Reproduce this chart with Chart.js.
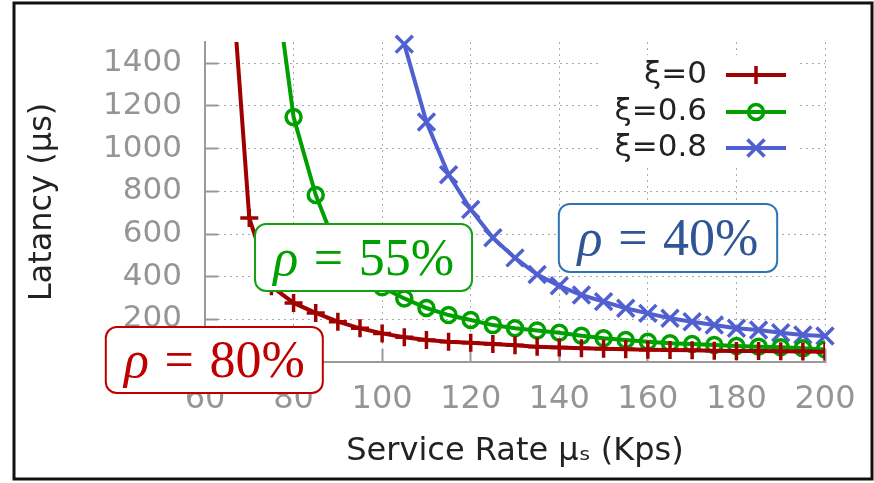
<!DOCTYPE html>
<html>
<head>
<meta charset="utf-8">
<script src="https://cdn.jsdelivr.net/npm/chart.js@4.4.1/dist/chart.umd.min.js"></script>
<style>
html,body{margin:0;padding:0;background:#fff;}
canvas{display:block;}
</style>
</head>
<body>
<canvas id="c" width="874" height="483"></canvas>
<script>
// ---------------- data ----------------
const serviceRate = [65,70,75,80,85,90,95,100,105,110,115,120,125,130,135,140,145,150,155,160,165,170,175,180,185,190,195,200];
const latencyXi0  = [2100,675,355,277,230,189,158,134,116,103,95,90,84,78,72,68,65,62,60,58,56,55,53,52,51,50,49,48];
const latencyXi06 = [null,null,1930,1148,783,520,420,350,298,253,220,197,173,158,148,137,123,111,103,95,88,84,80,75,72,69,64,59];
const latencyXi08 = [null,null,null,null,null,null,null,null,1490,1125,878,715,582,488,410,357,314,283,252,228,205,189,173,158,150,137,127,122];
const seriesNames = ['ξ=0','ξ=0.6','ξ=0.8'];
const xTickValues = [60,80,100,120,140,160,180,200];
const yTickValues = [0,200,400,600,800,1000,1200,1400];
const xAxisTitle = 'Service Rate μₛ (Kps)';
const yAxisTitle = 'Latancy (μs)';
const rhoSymbol = 'ρ';
const rhoValues = ['80%','55%','40%'];

// ---------------- styles / layout ----------------
const seriesColors = ['#A00000','#00A000','#5060D0'];
const seriesMarkers = ['cross','circle','crossRot'];
const markerRadius = [9,7.5,12];
const noteColors = [
  {border:'#C00000', text:'#C00000'},
  {border:'#13A013', text:'#00A000'},
  {border:'#2E75B6', text:'#2F5597'}
];
// box corners in data units (x0,x1 service rate; y0,y1 latency)
const noteBoxes = [
  [37.6, 86.6, 164, -145],
  [71.3, 120.3, 647, 333],
  [139.9, 189.2, 741, 422]
];

function toPoints(ys){
  const out = [];
  ys.forEach((v,i)=>{ if(v!==null) out.push({x:serviceRate[i], y:v}); });
  return out;
}
const seriesData = [latencyXi0, latencyXi06, latencyXi08];

const datasets = seriesData.map((ys,i)=>({
  label: seriesNames[i],
  data: toPoints(ys),
  borderColor: seriesColors[i],
  backgroundColor: 'rgba(0,0,0,0)',
  borderWidth: 4,
  tension: 0,
  pointStyle: seriesMarkers[i],
  pointRadius: markerRadius[i],
  pointBorderWidth: 3.5,
  pointBorderColor: seriesColors[i],
  pointBackgroundColor: 'rgba(0,0,0,0)',
  clip: i===2 ? false : undefined
}));

function drawMarker(ctx, style, x, y, r, color, lw){
  ctx.save();
  ctx.strokeStyle = color; ctx.lineWidth = lw; ctx.setLineDash([]);
  ctx.beginPath();
  if(style==='cross'){
    ctx.moveTo(x-r,y); ctx.lineTo(x+r,y); ctx.moveTo(x,y-r); ctx.lineTo(x,y+r);
  } else if(style==='crossRot'){
    const d = r*Math.SQRT1_2;
    ctx.moveTo(x-d,y-d); ctx.lineTo(x+d,y+d); ctx.moveTo(x+d,y-d); ctx.lineTo(x-d,y+d);
  } else {
    ctx.arc(x,y,r,0,Math.PI*2);
  }
  ctx.stroke();
  ctx.restore();
}

const backgroundPlugin = {
  id:'bg',
  beforeDraw(chart){
    const ctx = chart.ctx;
    ctx.save(); ctx.fillStyle='#fff'; ctx.fillRect(0,0,chart.width,chart.height); ctx.restore();
  }
};

const legendPlugin = {
  id:'sideLegend',
  beforeDatasetsDraw(chart){
    const ctx = chart.ctx;
    ctx.save();
    ctx.fillStyle = '#fff';
    ctx.fillRect(600,55,197,113);
    const rows = [75,112,148];
    ctx.font = '31px "DejaVu Sans"';
    ctx.textAlign = 'right';
    ctx.textBaseline = 'middle';
    chart.data.datasets.forEach((ds,i)=>{
      const y = rows[i];
      ctx.fillStyle = '#222';
      ctx.fillText(ds.label, 707, y);
      ctx.strokeStyle = ds.borderColor; ctx.lineWidth = 4; ctx.setLineDash([]);
      ctx.beginPath(); ctx.moveTo(726,y); ctx.lineTo(786,y); ctx.stroke();
      drawMarker(ctx, ds.pointStyle, 756, y, ds.pointRadius, ds.borderColor, 3.5);
    });
    ctx.restore();
  }
};

function drawRho(ctx, cx, cy, pct, color){
  const fs = 52;
  const itFont = 'italic ' + fs + 'px "Liberation Serif"';
  const upFont = fs + 'px "Liberation Serif"';
  ctx.font = itFont; const wR = ctx.measureText(rhoSymbol).width;
  ctx.font = upFont; const wEq = ctx.measureText('=').width; const wP = ctx.measureText(pct).width;
  const gap = fs*0.3;
  const total = wR + gap + wEq + gap + wP;
  let x = cx - total/2;
  const base = cy + fs*0.33;
  ctx.fillStyle = color; ctx.textAlign='left'; ctx.textBaseline='alphabetic';
  ctx.font = itFont; ctx.fillText(rhoSymbol, x, base); x += wR + gap;
  ctx.font = upFont; ctx.fillText('=', x, base); x += wEq + gap;
  ctx.fillText(pct, x, base);
}

const notesPlugin = {
  id:'rhoNotes',
  afterDraw(chart){
    const ctx = chart.ctx;
    const xs = chart.scales.x, ys = chart.scales.y;
    ctx.save();
    noteBoxes.forEach((b,i)=>{
      const x0 = xs.getPixelForValue(b[0]), x1 = xs.getPixelForValue(b[1]);
      const y0 = ys.getPixelForValue(b[2]), y1 = ys.getPixelForValue(b[3]);
      ctx.beginPath();
      ctx.roundRect(x0, y0, x1-x0, y1-y0, 11);
      ctx.fillStyle = '#fff'; ctx.fill();
      ctx.lineWidth = 2; ctx.strokeStyle = noteColors[i].border; ctx.setLineDash([]); ctx.stroke();
      drawRho(ctx, (x0+x1)/2, (y0+y1)/2, rhoValues[i], noteColors[i].text);
    });
    // outer frame
    ctx.lineWidth = 3; ctx.strokeStyle = '#111';
    ctx.strokeRect(14, 3, 858, 476);
    ctx.restore();
  }
};

function zeroPad(s){ s.paddingTop = 0; s.paddingBottom = 0; s.paddingLeft = 0; s.paddingRight = 0; }

new Chart(document.getElementById('c'), {
  type:'line',
  data:{ datasets },
  options:{
    responsive:false,
    animation:false,
    devicePixelRatio:1,
    events:[],
    layout:{ padding:{left:19, top:42, right:49, bottom:9} },
    plugins:{ legend:{display:false}, tooltip:{enabled:false} },
    scales:{
      x:{
        type:'linear', min:60, max:200,
        afterBuildTicks: s => { s.ticks = xTickValues.map(v=>({value:v})); },
        afterFit: s => { s.height = 112; zeroPad(s); },
        grid:{ color:'#aaaaaa', lineWidth:1, drawTicks:true, tickLength:-13, tickColor:'#999', tickWidth:2, tickBorderDash:[] },
        border:{ display:true, color:'#9a9a9a', width:2, dash:[2,4] },
        ticks:{ color:'#959595', font:{family:'DejaVu Sans', size:32}, padding:31, maxRotation:0, autoSkip:false, callback: v => String(v) },
        title:{ display:true, text:xAxisTitle, color:'#222', font:{family:'DejaVu Sans', size:32}, padding:{top:4,bottom:3} }
      },
      y:{
        type:'linear', min:0, max:1500,
        afterBuildTicks: s => { s.ticks = yTickValues.map(v=>({value:v})); },
        afterFit: s => { s.width = 186; zeroPad(s); },
        grid:{ color:'#aaaaaa', lineWidth:1, drawTicks:true, tickLength:-13, tickColor:'#999', tickWidth:2, tickBorderDash:[] },
        border:{ display:true, color:'#9a9a9a', width:2, dash:[2,4] },
        ticks:{ color:'#959595', font:{family:'DejaVu Sans', size:31}, padding:36, callback: v => String(v) },
        title:{ display:true, text:yAxisTitle, color:'#222', font:{family:'DejaVu Sans', size:32}, padding:{top:4,bottom:4} }
      }
    }
  },
  plugins:[backgroundPlugin, legendPlugin, notesPlugin]
});
</script>
</body>
</html>
